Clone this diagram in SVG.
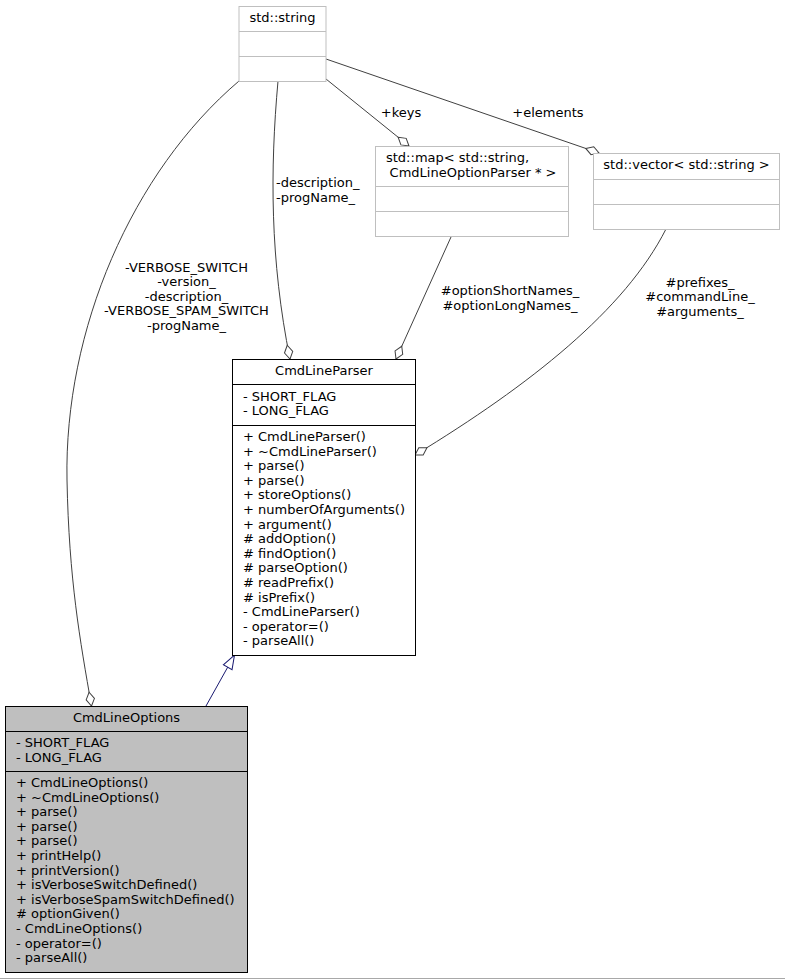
<svg xmlns="http://www.w3.org/2000/svg" width="785" height="979" viewBox="0 0 785 979">
<style>
text { font-family: "DejaVu Sans", "Liberation Sans", sans-serif; font-size: 13px; fill: #000; }
.c { text-anchor: middle; }
.ext { fill: #ffffff; stroke: #bfbfbf; stroke-width: 1; }
.ext-l { stroke: #bfbfbf; stroke-width: 1; }
.cls { fill: #ffffff; stroke: #000000; stroke-width: 1; }
.cur { fill: #bfbfbf; stroke: #000000; stroke-width: 1; }
.sep { stroke: #000000; stroke-width: 1; }
.edge { fill: none; stroke: #404040; stroke-width: 1; marker-end: url(#odiamond); }
.inh { fill: none; stroke: #191970; stroke-width: 1; marker-end: url(#otri); }
</style>
<defs>
<marker id="odiamond" markerUnits="userSpaceOnUse" markerWidth="16" markerHeight="12" viewBox="-1 -6 16 12" refX="14" refY="0" orient="auto">
<path d="M0,0 L7,-4.2 L14,0 L7,4.2 Z" fill="#ffffff" stroke="#404040" stroke-width="1"/>
</marker>
<marker id="otri" markerUnits="userSpaceOnUse" markerWidth="16" markerHeight="14" viewBox="-1 -7 16 14" refX="14" refY="0" orient="auto">
<path d="M0,-5 L14,0 L0,5 Z" fill="#ffffff" stroke="#191970" stroke-width="1"/>
</marker>
</defs>
<rect x="0" y="0" width="785" height="979" fill="#ffffff"/>
<line x1="0" y1="978.5" x2="785" y2="978.5" stroke="#a8a8a8" stroke-width="1"/>

<g id="connectors">
<path class="edge" d="M239,81 C132,172 64,330 67,480 C69,580 80,640 91.5,706"/>
<text class="c" x="186.5" y="271.5">-VERBOSE_SWITCH</text>
<text class="c" x="186.5" y="286">-version_</text>
<text class="c" x="186.5" y="300.5">-description_</text>
<text class="c" x="186.5" y="315">-VERBOSE_SPAM_SWITCH</text>
<text class="c" x="186.5" y="329.5">-progName_</text>

<path class="edge" d="M278,81 C270,170 270,260 290,359"/>
<text x="276" y="187">-description_</text>
<text x="276" y="201.5">-progName_</text>

<path class="edge" d="M326,79 L409,146"/>
<text class="c" x="401" y="117">+keys</text>

<path class="edge" d="M326,59 L599,153"/>
<text class="c" x="548" y="117">+elements</text>

<path class="edge" d="M451,237 L396,359"/>
<text class="c" x="510" y="295">#optionShortNames_</text>
<text class="c" x="510" y="309.5">#optionLongNames_</text>

<path class="edge" d="M666,229 C625,310 530,385 415,455"/>
<text class="c" x="700" y="286.5">#prefixes_</text>
<text class="c" x="700" y="301">#commandLine_</text>
<text class="c" x="700" y="315.5">#arguments_</text>

<path class="inh" d="M206,706 L234.5,655"/>
</g>

<g id="std_string">
<rect class="ext" x="239" y="6.5" width="87" height="75"/>
<line class="ext-l" x1="239" y1="31.5" x2="326" y2="31.5"/>
<line class="ext-l" x1="239" y1="56.5" x2="326" y2="56.5"/>
<text class="c" x="282.5" y="22">std::string</text>
</g>

<g id="std_map">
<rect class="ext" x="375.5" y="146.5" width="193" height="90"/>
<line class="ext-l" x1="375.5" y1="186.5" x2="568.5" y2="186.5"/>
<line class="ext-l" x1="375.5" y1="211.5" x2="568.5" y2="211.5"/>
<text x="386" y="162">std::map&lt; std::string,</text>
<text class="c" x="473" y="176.5">CmdLineOptionParser * &gt;</text>
</g>

<g id="std_vector">
<rect class="ext" x="593.5" y="153.5" width="186" height="76"/>
<line class="ext-l" x1="593.5" y1="179.5" x2="779.5" y2="179.5"/>
<line class="ext-l" x1="593.5" y1="204.5" x2="779.5" y2="204.5"/>
<text class="c" x="686.5" y="169">std::vector&lt; std::string &gt;</text>
</g>

<g id="CmdLineParser">
<rect class="cls" x="232.5" y="359.5" width="183" height="296"/>
<line class="sep" x1="232.5" y1="384.5" x2="415.5" y2="384.5"/>
<line class="sep" x1="232.5" y1="425.5" x2="415.5" y2="425.5"/>
<text class="c" x="324" y="375">CmdLineParser</text>
<text x="243" y="400.5">- SHORT_FLAG</text>
<text x="243" y="415">- LONG_FLAG</text>
<text x="243" y="441">+ CmdLineParser()</text>
<text x="243" y="455.6">+ ~CmdLineParser()</text>
<text x="243" y="470.2">+ parse()</text>
<text x="243" y="484.8">+ parse()</text>
<text x="243" y="499.4">+ storeOptions()</text>
<text x="243" y="514">+ numberOfArguments()</text>
<text x="243" y="528.6">+ argument()</text>
<text x="243" y="543.2"># addOption()</text>
<text x="243" y="557.8"># findOption()</text>
<text x="243" y="572.4"># parseOption()</text>
<text x="243" y="587"># readPrefix()</text>
<text x="243" y="601.6"># isPrefix()</text>
<text x="243" y="616.2">- CmdLineParser()</text>
<text x="243" y="630.8">- operator=()</text>
<text x="243" y="645.4">- parseAll()</text>
</g>

<g id="CmdLineOptions">
<rect class="cur" x="5.5" y="706.5" width="242" height="266"/>
<line class="sep" x1="5.5" y1="731.5" x2="247.5" y2="731.5"/>
<line class="sep" x1="5.5" y1="771.5" x2="247.5" y2="771.5"/>
<text class="c" x="126.5" y="722">CmdLineOptions</text>
<text x="16" y="747">- SHORT_FLAG</text>
<text x="16" y="761.5">- LONG_FLAG</text>
<text x="16" y="787">+ CmdLineOptions()</text>
<text x="16" y="801.6">+ ~CmdLineOptions()</text>
<text x="16" y="816.2">+ parse()</text>
<text x="16" y="830.8">+ parse()</text>
<text x="16" y="845.4">+ parse()</text>
<text x="16" y="860">+ printHelp()</text>
<text x="16" y="874.6">+ printVersion()</text>
<text x="16" y="889.2">+ isVerboseSwitchDefined()</text>
<text x="16" y="903.8">+ isVerboseSpamSwitchDefined()</text>
<text x="16" y="918.4"># optionGiven()</text>
<text x="16" y="933">- CmdLineOptions()</text>
<text x="16" y="947.6">- operator=()</text>
<text x="16" y="962.2">- parseAll()</text>
</g>
</svg>
